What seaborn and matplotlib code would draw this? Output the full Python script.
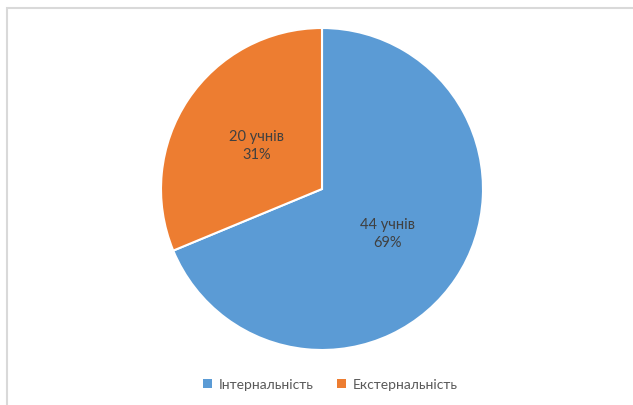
import matplotlib
matplotlib.use("Agg")
import matplotlib.pyplot as plt
import seaborn as sns
from matplotlib.patches import Rectangle, Patch

# Data
categories = ["Інтернальність", "Екстернальність"]
counts = [44, 20]
percents = [69, 31]
colors = ["#5B9BD5", "#ED7D31"]

sns.set_theme(style="white")
plt.rcParams['font.family'] = ['Lato', 'DejaVu Sans']

fig = plt.figure(figsize=(6.33, 4.06), dpi=100)

# light gray chart frame (left and top edges visible, rest goes off image)
frame = Rectangle((6.5 / 633, -0.05), 1.0, (406 - 8.5) / 406 + 0.05,
                  transform=fig.transFigure, fill=False,
                  edgecolor="#d9d9d9", linewidth=1.5)
fig.patches.append(frame)

# pie area: center (322, 190) px, radius 161 px
r = 161
cx, cy = 322, 190
ax = fig.add_axes([(cx - r) / 633, (406 - cy - r) / 406, 2 * r / 633, 2 * r / 406])

labels = [f"{c} учнів\n{p}%" for c, p in zip(counts, percents)]
wedges, texts = ax.pie(counts, colors=colors, startangle=90, counterclock=False,
                       labels=labels, labeldistance=0.49,
                       wedgeprops=dict(edgecolor="white", linewidth=1.5),
                       textprops=dict(color="#404040", fontsize=10.5, ha="center",
                                      va="center", linespacing=1.35))
ax.set_xlim(-1, 1)
ax.set_ylim(-1, 1)
ax.set_aspect("equal")

handles = [Patch(facecolor=c, edgecolor="none") for c in colors]
fig.legend(handles, categories, loc="center", bbox_to_anchor=(0.522, 1 - 385 / 406),
           ncol=2, frameon=False, fontsize=10, handlelength=0.6, handleheight=0.6,
           handletextpad=0.5, columnspacing=1.7, labelcolor="#595959")

fig.savefig("out.png", dpi=100)
